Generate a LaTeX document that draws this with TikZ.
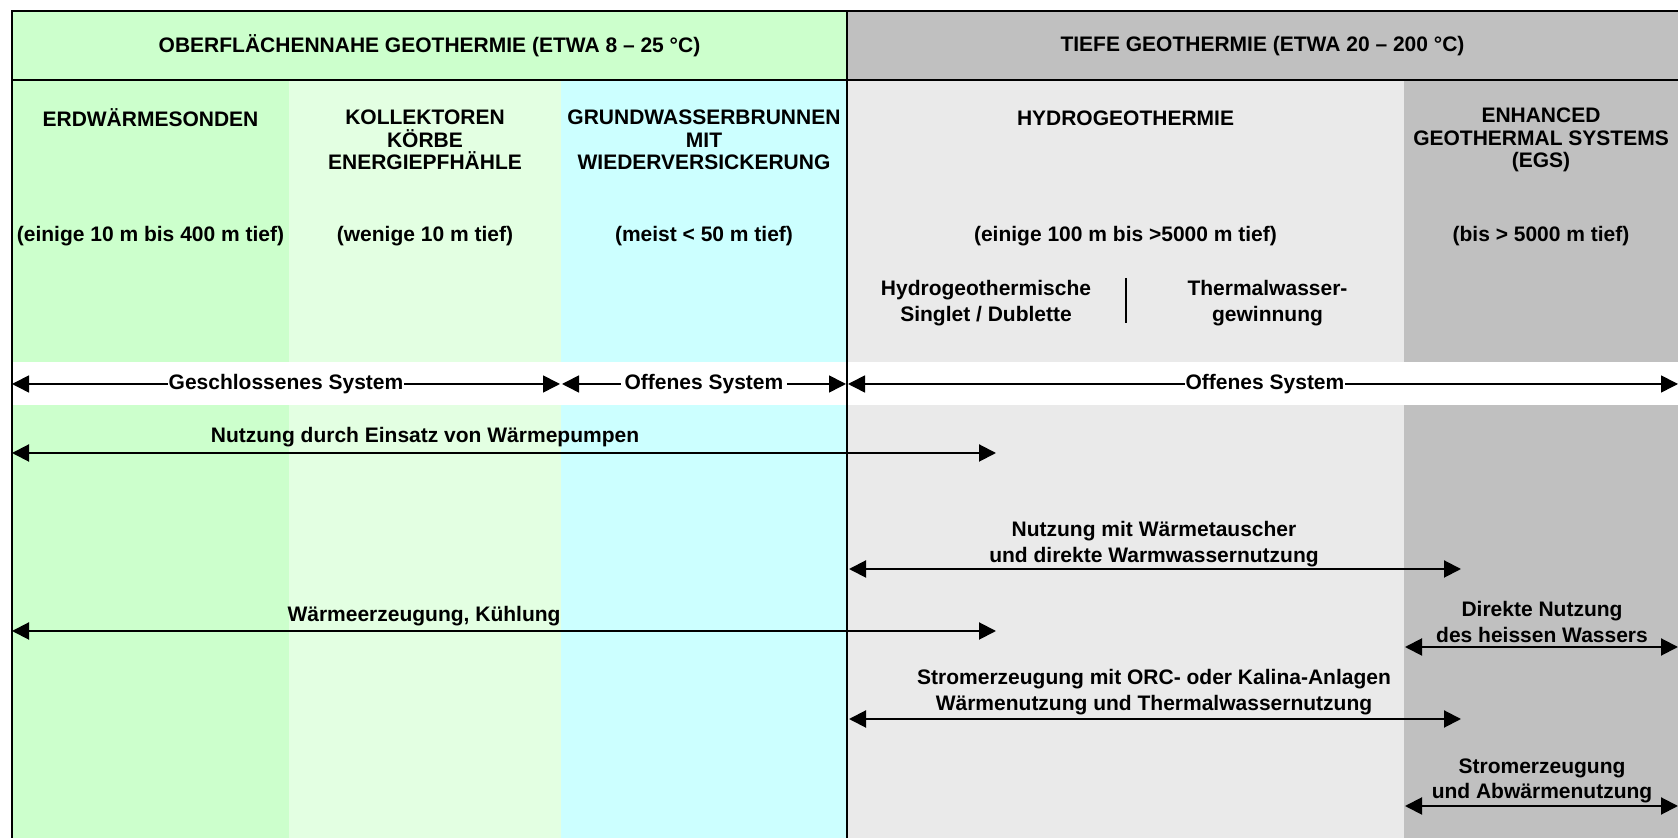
\documentclass[tikz,border=0pt]{standalone}
\usepackage{fontspec}
\setmainfont{Liberation Sans}
\usetikzlibrary{arrows.meta}
\definecolor{grnA}{HTML}{CCFFCC}
\definecolor{grnB}{HTML}{E3FFE2}
\definecolor{cyanA}{HTML}{CCFFFF}
\definecolor{grayL}{HTML}{EAEAEA}
\definecolor{grayD}{HTML}{C0C0C0}
\begin{document}
\begin{tikzpicture}[x=0.5pt,y=-0.5pt,
  lbl/.style={font=\fontsize{10.5}{11.25}\selectfont\bfseries, align=center, inner sep=0pt},
  lbltwo/.style={font=\fontsize{10.5}{12.8}\selectfont\bfseries, align=center, inner sep=0pt},
  tipT/.tip={Triangle[length=8.5pt,width=8.5pt]},
  dblarrow/.style={tipT-tipT, line width=1pt},
  bandarrow/.style={tipT-tipT, line width=0.8pt},
  frameline/.style={line width=1pt, line cap=rect}]
\useasboundingbox (0,0) rectangle (1678,838);
% fills
\fill[grnA] (12,11) rectangle (847,80);
\fill[grayD] (847,11) rectangle (1678,80);
\fill[grnA] (12,80) rectangle (289,838);
\fill[grnB] (289,80) rectangle (561,838);
\fill[cyanA] (561,80) rectangle (847,838);
\fill[grayL] (847,80) rectangle (1404,838);
\fill[grayD] (1404,80) rectangle (1678,838);
\fill[white] (12,362) rectangle (1678,405);
% frame lines
\draw[frameline] (12,838) -- (12,11) -- (1678,11);
\draw[frameline] (12,80) -- (1678,80);
\draw[frameline] (847,11) -- (847,838);
% header
\node[lbl] (hdrL) at (429.5,46) {OBERFLÄCHENNAHE GEOTHERMIE (ETWA 8 – 25 °C)};
\node[lbl] (hdrR) at (1262.5,46) {TIEFE GEOTHERMIE (ETWA 20 – 200 °C)};
% column titles
\node[lbl] (tErd) at (150.5,118) {ERDWÄRMESONDEN};
\node[lbl] (tKol) at (425,140) {KOLLEKTOREN\\KÖRBE\\ENERGIEPFHÄHLE};
\node[lbl] (tGrw) at (704,140) {GRUNDWASSERBRUNNEN\\MIT\\WIEDERVERSICKERUNG};
\node[lbl] (tHyd) at (1125.5,118) {HYDROGEOTHERMIE};
\node[lbl] (tEgs) at (1541,140) {ENHANCED\\GEOTHERMAL SYSTEMS\\(EGS)};
% depths
\node[lbl] (dErd) at (150.5,236) {(einige 10 m bis 400 m tief)};
\node[lbl] (dKol) at (425,236) {(wenige 10 m tief)};
\node[lbl] (dGrw) at (704,236) {(meist < 50 m tief)};
\node[lbl] (dHyd) at (1125.5,236) {(einige 100 m bis >5000 m tief)};
\node[lbl] (dEgs) at (1541,236) {(bis > 5000 m tief)};
% hydro sub
\node[lbltwo] (sHydA) at (986,303) {Hydrogeothermische\\Singlet / Dublette};
\node[lbltwo] (sHydB) at (1267.5,303) {Thermalwasser-\\gewinnung};
\coordinate (subTop) at (1126,278);
\coordinate (subBot) at (1126,323);
\draw[line width=0.6pt] (subTop) -- (subBot);
% band arrows
\coordinate (gsL) at (12,384);
\coordinate (gsR) at (560,384);
\coordinate (os1L) at (562,384);
\coordinate (os1R) at (846,384);
\coordinate (os2L) at (848,384);
\coordinate (os2R) at (1678,384);
\draw[bandarrow] (gsL) -- (gsR);
\draw[bandarrow] (os1L) -- (os1R);
\draw[bandarrow] (os2L) -- (os2R);
\node[lbl, fill=white, inner xsep=0.5pt, inner ysep=1pt] (gsT) at (286,384) {Geschlossenes System};
\node[lbl, fill=white, inner xsep=2pt, inner ysep=1pt] (os1T) at (704,384) {Offenes System};
\node[lbl, fill=white, inner xsep=0.5pt, inner ysep=1pt] (os2T) at (1265,384) {Offenes System};
% usage arrows
\coordinate (wpL) at (12,453);
\coordinate (wpR) at (996,453);
\draw[dblarrow] (wpL) -- (wpR);
\node[lbl] (wpT) at (425,437) {Nutzung durch Einsatz von Wärmepumpen};
\coordinate (wtL) at (849,569);
\coordinate (wtR) at (1461,569);
\draw[dblarrow] (wtL) -- (wtR);
\node[lbltwo] (wtT) at (1154,544) {Nutzung mit Wärmetauscher\\und direkte Warmwassernutzung};
\coordinate (wkL) at (12,631);
\coordinate (wkR) at (996,631);
\draw[dblarrow] (wkL) -- (wkR);
\node[lbl] (wkT) at (424,616) {Wärmeerzeugung, Kühlung};
\coordinate (dnL) at (1405,647);
\coordinate (dnR) at (1678,647);
\draw[dblarrow] (dnL) -- (dnR);
\node[lbltwo] (dnT) at (1542,622) {Direkte Nutzung\\des heissen Wassers};
\coordinate (orcL) at (849,719);
\coordinate (orcR) at (1461,719);
\draw[dblarrow] (orcL) -- (orcR);
\node[lbltwo] (orcT) at (1154,692) {Stromerzeugung mit ORC- oder Kalina-Anlagen\\Wärmenutzung und Thermalwassernutzung};
\coordinate (saL) at (1405,806);
\coordinate (saR) at (1678,806);
\draw[dblarrow] (saL) -- (saR);
\node[lbltwo] (saT) at (1542,781) {Stromerzeugung\\und Abwärmenutzung};
\end{tikzpicture}
\end{document}
